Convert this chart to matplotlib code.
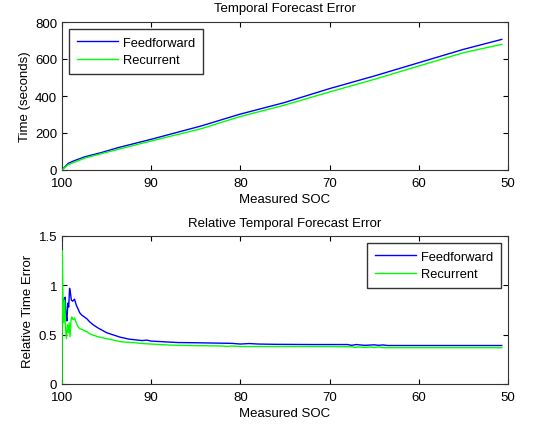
import matplotlib
matplotlib.use("Agg")
import matplotlib.pyplot as plt

plt.rcParams['font.family'] = ['Liberation Sans', 'DejaVu Sans']
plt.rcParams['font.size'] = 9.5

# ---- Top panel data: Time (seconds) vs Measured SOC ----
soc_top = [100.0, 99.3, 98.7, 97.4, 95.6, 93.7, 90.0, 84.4, 80.1, 75.1, 70.0, 65.0, 60.0, 55.0, 50.7]
ff_time = [0, 36, 49, 72, 94, 121, 166, 238, 301, 364, 440, 508, 580, 652, 706]
rc_time = [0, 29, 40, 65, 88, 112, 157, 223, 288, 350, 422, 490, 562, 634, 679]

# ---- Bottom panel data: Relative time error vs Measured SOC ----
soc_ff = [99.85, 99.75, 99.65, 99.55, 99.45, 99.35, 99.25, 99.15, 99.05, 98.95, 98.8, 98.6,
          98.4, 98.2, 98.0, 97.8, 97.5, 97.2, 96.9, 96.5, 96.0, 95.5, 95.0, 94.5, 94.0,
          93.5, 93.0, 92.5, 92.0, 91.5, 91.0, 90.5, 90.0, 89.0, 88.0, 87.0, 85.0, 83.0,
          81.0, 80.0, 79.0, 78.0, 76.0, 72.0, 68.0, 67.5, 67.0, 66.5, 66.0, 65.0, 64.5,
          64.0, 63.5, 60.0, 55.0, 50.7]
ff_rel = [0.86, 0.80, 0.88, 0.70, 0.64, 0.82, 0.78, 0.97, 0.92, 0.85, 0.84, 0.86,
          0.80, 0.76, 0.72, 0.70, 0.68, 0.66, 0.63, 0.60, 0.57, 0.545, 0.52, 0.505, 0.49,
          0.475, 0.465, 0.455, 0.45, 0.445, 0.44, 0.445, 0.435, 0.43, 0.425, 0.42, 0.418, 0.415,
          0.412, 0.405, 0.41, 0.405, 0.402, 0.40, 0.40, 0.392, 0.40, 0.395, 0.392, 0.397, 0.392,
          0.396, 0.39, 0.39, 0.39, 0.39]

soc_rc = [100.0, 99.97, 99.9, 99.8, 99.7, 99.6, 99.5, 99.4, 99.3, 99.2, 99.1, 99.0, 98.9,
          98.75, 98.6, 98.4, 98.2, 98.0, 97.8, 97.5, 97.2, 96.9, 96.5, 96.0, 95.5, 95.0,
          94.5, 94.0, 93.5, 93.0, 92.0, 91.0, 90.0, 89.0, 88.0, 86.0, 84.0, 82.0, 81.5,
          81.0, 80.0, 75.0, 70.0, 67.5, 67.2, 66.8, 66.0, 65.5, 65.0, 64.5, 64.0, 60.0, 50.7]
rc_rel = [0.0, 1.35, 0.90, 0.62, 0.85, 0.55, 0.46, 0.60, 0.52, 0.62, 0.48, 0.64, 0.68,
          0.65, 0.67, 0.62, 0.58, 0.56, 0.555, 0.54, 0.53, 0.51, 0.495, 0.48, 0.47, 0.46,
          0.45, 0.44, 0.43, 0.425, 0.42, 0.41, 0.405, 0.40, 0.395, 0.39, 0.388, 0.385, 0.38,
          0.385, 0.38, 0.38, 0.38, 0.378, 0.37, 0.375, 0.37, 0.375, 0.37, 0.375, 0.368, 0.368, 0.368]

xticks = [100, 90, 80, 70, 60, 50]
yticks_top = [0, 200, 400, 600, 800]
yticks_bot = [0, 0.5, 1, 1.5]
yticklabels_bot = ['0', '0.5', '1', '1.5']

fig = plt.figure(figsize=(5.46, 4.27), dpi=100)
W, H = 546, 427

def style(ax):
    ax.tick_params(direction='in', top=True, right=True, length=3.5, width=0.8,
                   labelsize=9.5, colors='black')
    ax.tick_params(axis='y', pad=3.5)
    ax.tick_params(axis='x', pad=5)
    for s in ax.spines.values():
        s.set_linewidth(0.8)
        s.set_color('#333333')

def legend(ax, loc):
    leg = ax.legend(loc=loc, fancybox=False, framealpha=1, edgecolor='#333333',
                    handlelength=3.2, handletextpad=0.4, borderpad=0.6,
                    labelspacing=0.4, borderaxespad=0.55, fontsize=9.3)
    leg.get_frame().set_linewidth(1.0)

ax1 = fig.add_axes([62/W, (H-171)/H, (508-62)/W, 148/H])
ax1.plot(soc_top, ff_time, color='#0000ff', lw=1.0, label='Feedforward', zorder=3)
ax1.plot(soc_top, rc_time, color='#00ff00', lw=1.0, label='Recurrent', zorder=3)
ax1.set_xlim(100, 50)
ax1.set_ylim(0, 800)
ax1.set_xticks(xticks)
ax1.set_yticks(yticks_top)
ax1.set_title('Temporal Forecast Error', fontsize=9.5, pad=8)
ax1.set_xlabel('Measured SOC', labelpad=3)
ax1.set_ylabel('Time (seconds)', labelpad=3)
style(ax1)
legend(ax1, 'upper left')

ax2 = fig.add_axes([62/W, (H-385)/H, (508-62)/W, 148/H])
ax2.plot(soc_ff, ff_rel, color='#0000ff', lw=1.0, label='Feedforward', zorder=3)
ax2.plot(soc_rc, rc_rel, color='#00ff00', lw=1.0, label='Recurrent', zorder=3)
ax2.set_xlim(100, 50)
ax2.set_ylim(0, 1.5)
ax2.set_xticks(xticks)
ax2.set_yticks(yticks_bot)
ax2.set_yticklabels(yticklabels_bot)
ax2.set_title('Relative Temporal Forecast Error', fontsize=9.5, pad=7)
ax2.set_xlabel('Measured SOC', labelpad=3)
ax2.set_ylabel('Relative Time Error', labelpad=3)
style(ax2)
legend(ax2, 'upper right')

fig.savefig('out.png', dpi=100)
